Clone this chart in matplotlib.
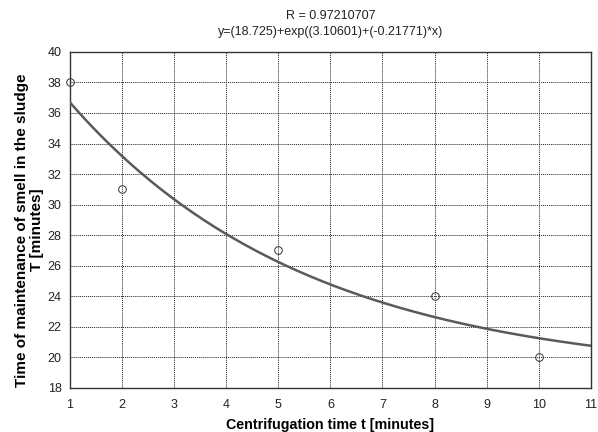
import numpy as np
import matplotlib
matplotlib.use("Agg")
import matplotlib.pyplot as plt

plt.rcParams['font.family'] = ['Liberation Sans', 'DejaVu Sans']

# measured points
t_minutes = [1, 2, 5, 8, 10]
T_minutes = [38, 31, 27, 24, 20]

# fitted model parameters (from the title)
a, b, c = 18.725, 3.10601, -0.21771
r_value = 0.97210707

fig = plt.figure(figsize=(5.98, 4.32), dpi=100)
ax = fig.add_axes([0.117, 0.102, 0.871, 0.778])

x = np.linspace(1, 11, 200)
ax.plot(x, a + np.exp(b + c * x), color='#5a5a5a', lw=1.8, zorder=3)
ax.plot(t_minutes, T_minutes, 'o', mfc='none', mec='#333333', ms=5.5, mew=0.7,
        zorder=4, clip_on=False)

ax.set_xlim(1, 11)
ax.set_ylim(18, 40)
ax.set_xticks(range(1, 12))
ax.set_yticks(range(18, 41, 2))
ax.grid(True, color='#222222', ls=(0, (1, 1)), lw=0.7)
ax.tick_params(length=0, labelsize=9, colors='#222222')
ax.tick_params(axis='x', pad=8)
ax.tick_params(axis='y', pad=6)
for s in ax.spines.values():
    s.set_color('#333333')
    s.set_linewidth(1.0)

ax.set_title(f"R = {r_value}\ny=({a})+exp(({b})+({c})*x)", fontsize=9,
             color='#222222', pad=12, linespacing=1.5)
ax.set_xlabel("Centrifugation time t [minutes]", fontsize=10.3, fontweight='bold',
              labelpad=5)
ax.set_ylabel("Time of maintenance of smell in the sludge\nT [minutes]",
              fontsize=11, fontweight='bold', linespacing=1.05)
ax.yaxis.set_label_coords(-0.05, 0.47)

fig.savefig("out.png", dpi=100)
